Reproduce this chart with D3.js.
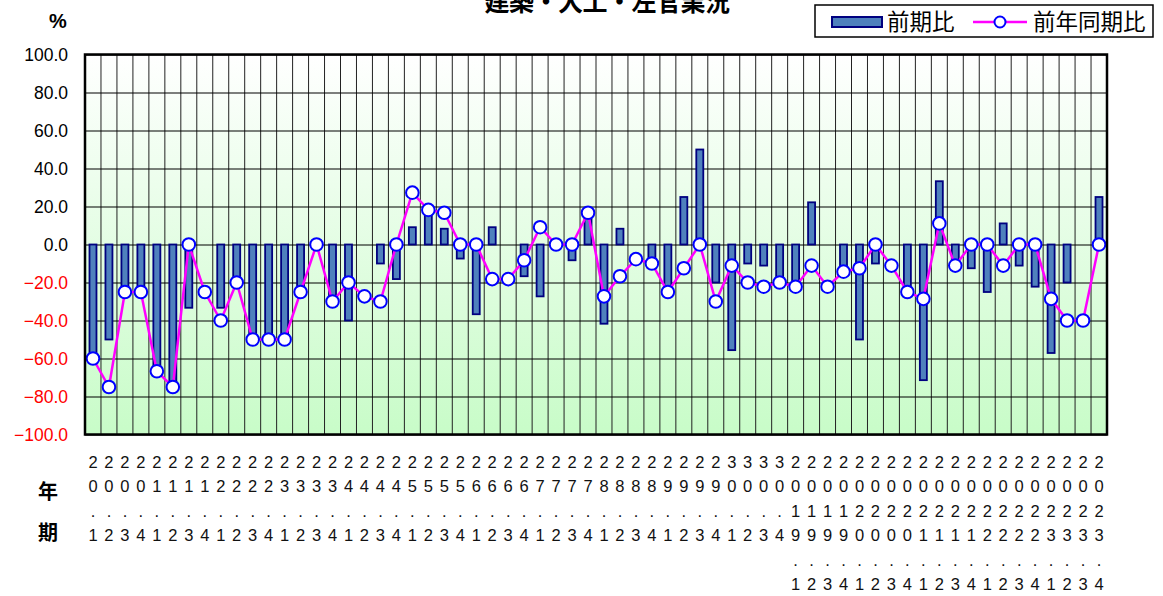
<!DOCTYPE html>
<html><head><meta charset="utf-8">
<script src="https://cdn.jsdelivr.net/npm/d3@7"></script>
<style>
html,body{margin:0;padding:0;background:#fff;}
</style>
</head><body>
<svg id="chart" width="1163" height="596"></svg>
<script>
const title = "建築・大工・左官業況";
const seriesNames = ["前期比", "前年同期比"];
const periods = [
 "20.1","20.2","20.3","20.4","21.1","21.2","21.3","21.4","22.1","22.2","22.3","22.4",
 "23.1","23.2","23.3","23.4","24.1","24.2","24.3","24.4","25.1","25.2","25.3","25.4",
 "26.1","26.2","26.3","26.4","27.1","27.2","27.3","27.4","28.1","28.2","28.3","28.4",
 "29.1","29.2","29.3","29.4","30.1","30.2","30.3","30.4",
 "2019.1","2019.2","2019.3","2019.4","2020.1","2020.2","2020.3","2020.4",
 "2021.1","2021.2","2021.3","2021.4","2022.1","2022.2","2022.3","2022.4",
 "2023.1","2023.2","2023.3","2023.4"];
const qoq = [-60,-50,-25,-25,-66.7,-75,-33.3,0,-33.3,-20,-50,-50,
 -50,-25,0,-30,-40,0,-10,-18.2,9.1,18.2,8.3,-7.4,
 -36.7,9.1,0,-16.7,-27.3,0,-8.3,16.7,-41.7,8.3,0,-9.1,
 -25,25,50,-20,-55.6,-10,-11.1,-20,
 -22.2,22.2,0,-14.3,-50,-10,0,-25,
 -71.4,33.3,-9.1,-12.5,-25,11.1,-11.1,-22.2,
 -57.1,-20,0,25];
const yoy = [-60,-75,-25,-25,-66.7,-75,0,-25,-40,-20,-50,-50,
 -50,-25,0,-30,-20,-27.3,-30,0,27.3,18.2,16.7,0,
 0,-18.2,-18.2,-8.3,9.1,0,0,16.7,-27.3,-16.7,-7.7,-10,
 -25,-12.5,0,-30,-11.1,-20,-22.2,-20,
 -22.2,-11.1,-22.2,-14.3,-12.5,0,-11.1,-25,
 -28.6,11.1,-11.1,0,0,-11.1,0,0,
 -28.6,-40,-40,0];
const yTicks = [-100,-80,-60,-40,-20,0,20,40,60,80,100];

const svg = d3.select("#chart");
const L = 85, T = 54.5, W = 1022, H = 380;
const x = d3.scaleBand().domain(periods).range([L, L + W]).padding(0);
const y = d3.scaleLinear().domain([-100, 100]).range([T + H, T]);

const defs = svg.append("defs");
const grad = defs.append("linearGradient").attr("id","bg").attr("x1",0).attr("y1",0).attr("x2",0).attr("y2",1);
grad.append("stop").attr("offset","0%").attr("stop-color","#ffffff");
grad.append("stop").attr("offset","100%").attr("stop-color","#c8fcc8");

svg.append("rect").attr("x",L).attr("y",T).attr("width",W).attr("height",H).attr("fill","url(#bg)");

// vertical grid at category boundaries
const bounds = periods.map(p => x(p)).concat([L + W]);
svg.append("g").selectAll("line").data(bounds).join("line")
  .attr("x1", d => d).attr("x2", d => d).attr("y1", T).attr("y2", T + H)
  .attr("stroke", "#222").attr("stroke-width", 1);

// y axis with horizontal grid
const yAxis = d3.axisLeft(y).tickValues(yTicks).tickSize(-W).tickPadding(17)
  .tickFormat(d => (d < 0 ? "\u2212" + d3.format(".1f")(-d) : d3.format(".1f")(d)));
const gy = svg.append("g").attr("transform", `translate(${L},0)`).call(yAxis);
gy.select(".domain").remove();
gy.selectAll(".tick line").attr("stroke", "#000").attr("stroke-width", 1.2);
gy.selectAll(".tick text")
  .attr("font-family", "'Liberation Sans', Arial, sans-serif")
  .attr("font-size", 17.5)
  .attr("fill", d => d < 0 ? "#ff0000" : "#000");

// bars
const bw = 7;
svg.append("g").selectAll("rect").data(periods.map((p,i)=>({p, v: qoq[i]})).filter(d => d.v !== 0)).join("rect")
  .attr("x", d => x(d.p) + x.bandwidth()/2 - bw/2)
  .attr("y", d => y(Math.max(0, d.v)))
  .attr("width", bw)
  .attr("height", d => Math.abs(y(d.v) - y(0)))
  .attr("fill", "#4f81bd").attr("stroke", "#000080").attr("stroke-width", 1.8);

// line
const line = d3.line().x((d,i) => x(periods[i]) + x.bandwidth()/2).y(d => y(d));
svg.append("path").datum(yoy).attr("d", line).attr("fill","none")
  .attr("stroke","#ff00ff").attr("stroke-width",2.5);
svg.append("g").selectAll("circle").data(yoy).join("circle")
  .attr("cx", (d,i) => x(periods[i]) + x.bandwidth()/2).attr("cy", d => y(d)).attr("r", 6.3)
  .attr("fill","#fff").attr("stroke","#0000ff").attr("stroke-width",2);

// plot border
svg.append("rect").attr("x",L).attr("y",T).attr("width",W).attr("height",H)
  .attr("fill","none").attr("stroke","#000").attr("stroke-width",2.5);

// x labels (vertical stacked characters)
const xl = svg.append("g").attr("font-family","'Liberation Sans', Arial, sans-serif").attr("font-size",16.5).attr("fill","#111");
periods.forEach(p => {
  const cx = x(p) + x.bandwidth()/2;
  p.split("").forEach((ch, k) => {
    xl.append("text").attr("x", cx).attr("y", 468 + k*24.4).attr("text-anchor","middle").text(ch);
  });
});

const jp = "'Noto Sans CJK JP', 'Noto Sans CJK SC', sans-serif";
svg.append("text").attr("x",48).attr("y",499).attr("text-anchor","middle").attr("font-family",jp).attr("font-weight","bold").attr("font-size",20).text("年");
svg.append("text").attr("x",48).attr("y",540).attr("text-anchor","middle").attr("font-family",jp).attr("font-weight","bold").attr("font-size",20).text("期");

// title (partially clipped at top, as in the reference)
svg.append("text").attr("x",607).attr("y",11).attr("text-anchor","middle").attr("font-family",jp)
  .attr("font-weight","bold").attr("font-size",25).attr("letter-spacing",-0.5).text(title);
svg.append("text").attr("x",58).attr("y",28).attr("text-anchor","middle")
  .attr("font-family","'Liberation Sans', Arial, sans-serif").attr("font-weight","bold").attr("font-size",20).text("%");

// legend
const lg = svg.append("g");
lg.append("rect").attr("x",815).attr("y",5).attr("width",338).attr("height",32).attr("fill","#fff").attr("stroke","#000").attr("stroke-width",1.5);
lg.append("rect").attr("x",832).attr("y",17).attr("width",50).attr("height",10).attr("fill","#4f81bd").attr("stroke","#000080").attr("stroke-width",2);
lg.append("text").attr("x",887).attr("y",30).attr("font-family",jp).attr("font-size",22.5).text(seriesNames[0]);
lg.append("line").attr("x1",973).attr("x2",1027).attr("y1",22).attr("y2",22).attr("stroke","#ff00ff").attr("stroke-width",2.5);
lg.append("circle").attr("cx",1000).attr("cy",22).attr("r",5.5).attr("fill","#fff").attr("stroke","#0000ff").attr("stroke-width",2);
lg.append("text").attr("x",1033).attr("y",30).attr("font-family",jp).attr("font-size",22.5).text(seriesNames[1]);
</script>
</body></html>
